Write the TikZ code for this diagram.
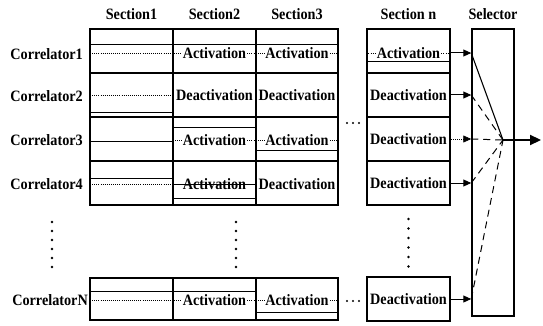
\documentclass[tikz,border=0pt]{standalone}
\usepackage{fontspec}
\setmainfont[BoldFeatures={FakeStretch=0.9}]{Liberation Serif}
\usepackage{tikz}
\usetikzlibrary{arrows.meta}
\usetikzlibrary{positioning}
\usetikzlibrary{calc}
\tikzstyle{arrow} = [line width=1pt, -{Triangle[length=8pt,width=7pt]}]
\tikzstyle{grid} = [line width=1.3pt]
\tikzstyle{bar} = [line width=0.9pt]
\tikzstyle{dots} = [line width=0.7pt, dash pattern=on 0.8pt off 1.3pt]
\tikzstyle{lab} = [font=\bfseries\fontsize{15.8}{17}\selectfont, inner sep=1pt]
\tikzstyle{secbox} = [draw, line width=1.3pt, minimum width=83pt, minimum height=44pt, inner sep=0pt, lab]
\tikzstyle{dashln} = [line width=1pt, dash pattern=on 7pt off 5pt]

\begin{document}
\begin{tikzpicture}[x=1pt, y=-1pt]
\useasboundingbox (0,0) rectangle (543,326);
\coordinate (L) at (90,0);
\coordinate (C1) at (173,0);
\coordinate (C2) at (256,0);
\coordinate (R) at (338,0);

\node[lab] (hdr1) at (131.5,14) {Section1};
\node[lab] (hdr2) at (214.5,14) {Section2};
\node[lab] (hdr3) at (297,14) {Section3};
\node[lab] (hdrn) at (408.5,14) {Section n};

\node[lab, anchor=east] (cor1) at (84,54) {Correlator1};
\node[lab, anchor=east] (cor2) at (84,96) {Correlator2};
\node[lab, anchor=east] (cor3) at (84,140) {Correlator3};
\node[lab, anchor=east] (cor4) at (84,184) {Correlator4};
\node[lab, anchor=east] (corN) at (89,300) {CorrelatorN};

\draw[grid] (90,29) rectangle (338,205);
\draw[grid] (173,29) -- (173,205) (256,29) -- (256,205);
\draw[grid] (90,73) -- (338,73) (90,117) -- (338,117) (90,161) -- (338,161);
\draw[grid] (90,278) rectangle (338,320);
\draw[grid] (173,278) -- (173,320) (256,278) -- (256,320);

\draw[bar] (90,44) -- (338,44);
\draw[bar] (90,112) -- (173,112);
\draw[bar] (90,141) -- (173,141) (173,127) -- (256,127) (256,150) -- (338,150);
\draw[bar] (90,178) -- (173,178) (173,184) -- (256,184) (173,198) -- (256,198);
\draw[bar] (90,291) -- (256,291) (256,312) -- (338,312);

\node[lab] (a12) at (214.5,53) {Activation};
\node[lab] (a13) at (297,53) {Activation};
\node[lab] (d22) at (214.5,95) {Deactivation};
\node[lab] (d23) at (297,95) {Deactivation};
\node[lab] (a32) at (214.5,140) {Activation};
\node[lab] (a33) at (297,140) {Activation};
\node[lab] (a42) at (214.5,184) {Activation};
\node[lab] (d43) at (297,184) {Deactivation};
\node[lab] (aN2) at (214.5,300) {Activation};
\node[lab] (aN3) at (297,300) {Activation};

\node[secbox] (sn1) at (408.5,51) {};
\node[secbox] (sn2) at (408.5,95) {Deactivation};
\node[secbox] (sn3) at (408.5,139) {Deactivation};
\node[secbox] (sn4) at (408.5,183) {Deactivation};
\node[secbox] (snN) at (408.5,299) {Deactivation};
\node[lab] (an1) at (408.5,53) {Activation};
\draw[bar] (367,61) -- (450,61);

\draw[dots] (L |- a12) -- (a12.west) (a12.east) -- (a13.west) (a13.east) -- (R |- a13);
\draw[dots] (L |- d22) -- (C1 |- d22);
\draw[dots] (C1 |- a32) -- (a32.west) (a32.east) -- (a33.west) (a33.east) -- (R |- a33);
\draw[dots] (L |- a42) -- (a42.west) (a42.east) -- (C2 |- a42);
\draw[dots] (L |- aN2) -- (aN2.west) (aN2.east) -- (aN3.west) (aN3.east) -- (R |- aN3);
\draw[dots] (sn1.west |- an1) -- (an1.west) (an1.east) -- (sn1.east |- an1);

\node[draw, line width=1.5pt, minimum width=42pt, minimum height=287pt, inner sep=0pt] (sel) at (493,172.5) {};
\node[lab] (hdrs) at (493,14) {Selector};

\coordinate (in1) at (sel.west |- an1);
\coordinate (in2) at (sel.west |- sn2);
\coordinate (in3) at (sel.west |- sn3);
\coordinate (in4) at (sel.west |- sn4);
\coordinate (inN) at (sel.west |- snN);
\coordinate (sum) at (503,140);
\coordinate (out) at (541,140);

\draw[arrow] (sn1.east |- an1) -- (in1);
\draw[arrow] (sn2.east) -- (in2);
\draw[arrow, dots] (sn3.east) -- (in3);
\draw[arrow] (sn4.east) -- (in4);
\draw[arrow] (snN.east) -- (inN);

\draw[line width=1.1pt] (in1) -- (sum);
\draw[dashln] (in2) -- (sum);
\draw[dashln] (in3) -- (sum);
\draw[dashln] (in4) -- (sum);
\draw[dashln] (inN) -- (sum);
\draw[line width=2.2pt, -{Triangle[length=11pt,width=10pt]}] (sum) -- (out);

\foreach \k in {0,...,5} {
  \fill (52,222+9*\k) circle (1.3pt);
  \fill (236,222+9*\k) circle (1.3pt);
  \fill (408.5,219+9.5*\k) circle (1.3pt);
}
\foreach \k in {0,1,2} {
  \fill (347+6*\k,123) circle (1.2pt);
  \fill (347+6*\k,301) circle (1.2pt);
}
\end{tikzpicture}
\end{document}
